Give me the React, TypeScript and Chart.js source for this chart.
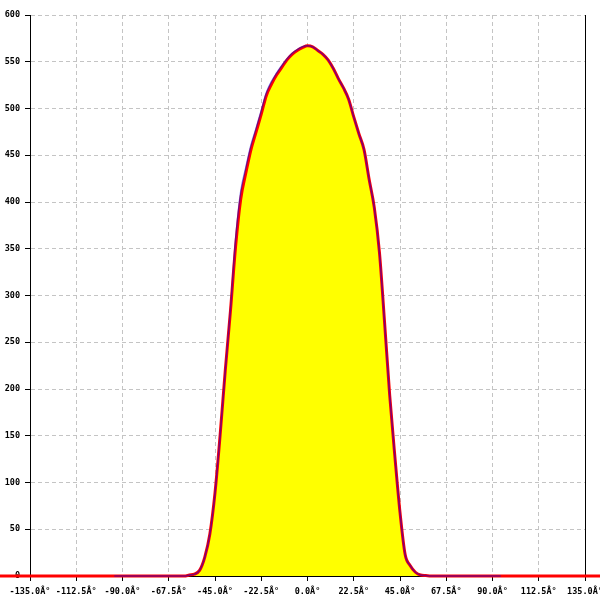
import React, { useEffect, useRef } from "react";
import { Chart, registerables } from "chart.js";

Chart.register(...registerables);

// X axis tick values and their labels (as printed in the reference)
const xTickValues = [-135, -112.5, -90, -67.5, -45, -22.5, 0, 22.5, 45, 67.5, 90, 112.5, 135];
const xTickLabels = [
  "-135.0Â°", "-112.5Â°", "-90.0Â°", "-67.5Â°", "-45.0Â°", "-22.5Â°", "0.0Â°",
  "22.5Â°", "45.0Â°", "67.5Â°", "90.0Â°", "112.5Â°", "135.0Â°",
];

// Angles of the sampled curve
const curveAngles = [
  -60, -57.5, -55, -52.5, -50, -47.5, -45, -42.5, -40, -37.5, -35, -32.5, -30, -27.5, -25,
  -22.5, -20, -17.5, -15, -12.5, -10, -7.5, -5, -2.5, 0, 2.5, 5, 7.5, 10, 12.5, 15, 17.5,
  20, 22.5, 25, 27.5, 30, 32.5, 35, 37.5, 40, 42.5, 45, 47.5, 50, 52.5, 55, 57.5, 60,
];

// Red series values
const redValues = [
  0, 1, 2, 6, 20, 45, 89, 151, 220, 283, 352, 403, 431, 456, 475,
  494, 514, 526, 536, 544, 552, 558, 562, 565, 567, 566, 562, 558, 552, 543, 532, 522,
  510, 491, 473, 456, 424, 394, 346, 271, 193, 128, 68, 23, 11, 4, 1, 0.5, 0,
];

// Blue series values
const blueValues = [
  0, 1, 2, 6, 20, 45, 89, 151, 220, 285, 360, 411, 437, 461, 479,
  498, 517, 529, 538, 546, 553, 559, 563, 566, 567, 566, 562, 558, 552, 543, 532, 522,
  510, 491, 473, 456, 424, 394, 346, 271, 193, 128, 68, 23, 11, 4, 1, 0.5, 0,
];

// Flat extents of the series
const redEnds = [-180, 180];
const blueEnds = [-94, 94];

export default function App() {
  const ref = useRef<HTMLCanvasElement>(null);

  useEffect(() => {
    if (!ref.current) return;
    const redData = [
      { x: redEnds[0], y: 0 },
      ...curveAngles.map((a, i) => ({ x: a, y: redValues[i] })),
      { x: redEnds[1], y: 0 },
    ];
    const blueData = [
      { x: blueEnds[0], y: 0 },
      ...curveAngles.map((a, i) => ({ x: a, y: blueValues[i] })),
      { x: blueEnds[1], y: 0 },
    ];
    const font = { family: "'DejaVu Sans Mono', monospace", size: 8.5, weight: "bold" as const };
    const chart = new Chart(ref.current, {
      type: "line",
      data: {
        datasets: [
          {
            data: blueData,
            borderColor: "rgba(0,0,230,0.5)",
            borderWidth: 1.5,
            pointRadius: 0,
            fill: false,
            cubicInterpolationMode: "monotone",
            clip: false as any,
          },
          {
            data: redData,
            borderColor: "rgb(255,0,0)",
            borderWidth: 3,
            pointRadius: 0,
            fill: "origin",
            backgroundColor: "rgb(255,255,0)",
            cubicInterpolationMode: "monotone",
            clip: false as any,
          },
        ],
      },
      options: {
        responsive: false,
        animation: false,
        events: [],
        layout: { padding: { top: 15, right: 15, left: 0, bottom: 0 } },
        plugins: {
          legend: { display: false },
          tooltip: { enabled: false },
          title: { display: false },
          filler: { drawTime: "beforeDatasetsDraw" } as any,
        },
        scales: {
          x: {
            type: "linear",
            min: -135,
            max: 135,
            afterBuildTicks: (s: any) => {
              s.ticks = xTickValues.map((v) => ({ value: v }));
            },
            afterFit: (s: any) => {
              s.height = 24;
              s.paddingLeft = 0;
              s.paddingRight = 0;
            },
            ticks: {
              autoSkip: false,
              maxRotation: 0,
              minRotation: 0,
              padding: 6,
              color: "#000",
              font,
              callback: (v: any) => {
                const i = xTickValues.indexOf(Number(v));
                return i >= 0 ? xTickLabels[i] : "";
              },
            },
            grid: {
              color: "#c4c4c4",
              tickColor: "#000",
              tickLength: 5,
              lineWidth: 1,
            } as any,
            border: { color: "#000", width: 1, dash: [4, 3] } as any,
          },
          y: {
            type: "linear",
            min: 0,
            max: 600,
            afterFit: (s: any) => {
              s.width = 30;
            },
            ticks: {
              stepSize: 50,
              padding: 5,
              color: "#000",
              font,
            },
            grid: {
              color: "#c4c4c4",
              tickColor: "#000",
              tickLength: 5,
              lineWidth: 1,
            } as any,
            border: { color: "#000", width: 1, dash: [4, 3] } as any,
          },
          y2: {
            type: "linear",
            position: "right",
            min: 0,
            max: 600,
            afterFit: (s: any) => {
              s.width = 0;
            },
            ticks: { display: false },
            grid: { display: false, drawOnChartArea: false, drawTicks: false },
            border: { display: true, color: "#000", width: 1 },
          },
        },
      },
    });
    return () => chart.destroy();
  }, []);

  return (
    <div style={{ position: "absolute", left: 0, top: 0, width: 600, height: 600, background: "#fff" }}>
      <canvas ref={ref} width={600} height={600} style={{ display: "block" }} />
    </div>
  );
}
